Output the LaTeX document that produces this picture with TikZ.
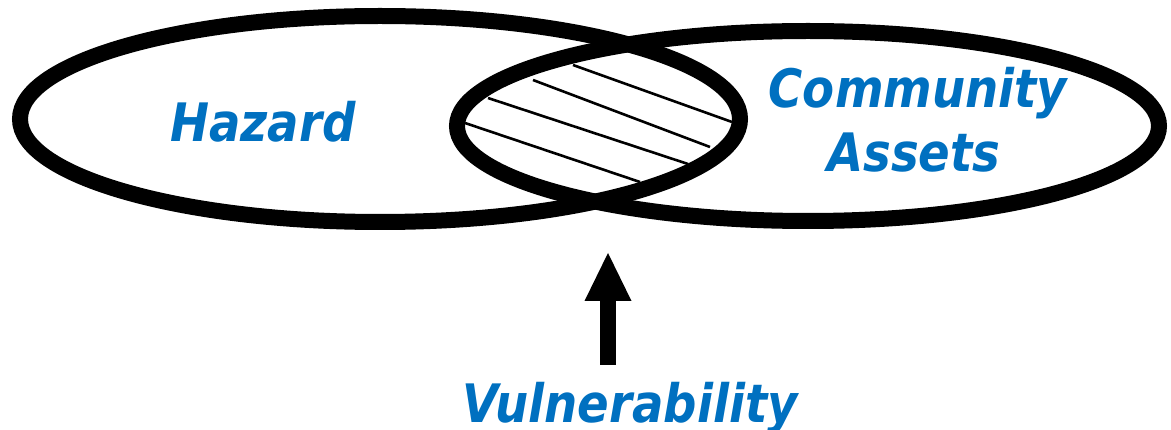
\documentclass[tikz,border=0pt]{standalone}
\usepackage{fontspec}
\newfontfamily\labelfont[FakeStretch=0.88]{DejaVu Sans}
\usetikzlibrary{arrows.meta}
\definecolor{labelblue}{RGB}{0,112,192}
\tikzset{
  setring/.style={draw=black, line width=16pt},
  hatchline/.style={draw=black, line width=2.6pt},
  lbl/.style={text=labelblue, font=\labelfont\bfseries\itshape\fontsize{53}{60}\selectfont,
               inner sep=0pt, anchor=base},
  bigarrow/.style={draw=black, line width=16pt,
               -{Triangle[width=47pt,length=48pt,line width=0pt]}}
}
\begin{document}
\begin{tikzpicture}[x=1pt,y=-1pt]
  \useasboundingbox (0,0) rectangle (1171,430);

  % the two overlapping sets
  \draw[setring] (380,119) ellipse [x radius=360, y radius=103];
  \draw[setring] (808,126) ellipse [x radius=351, y radius=95];

  % hatching of the overlap
  \draw[hatchline] (573,65)  -- (732,122);
  \draw[hatchline] (533,80)  -- (710,147);
  \draw[hatchline] (488,98)  -- (688,164);
  \draw[hatchline] (465,123) -- (640,182);

  % labels
  \node[lbl] (hazard)    at (263,142) {Hazard};
  \node[lbl] (community) at (918,108) {Community};
  \node[lbl] (assets)    at (914,172) {Assets};
  \node[lbl] (vuln)      at (630,423) {Vulnerability};

  % arrow pointing at the overlap
  \coordinate (tip) at (608,253);
  \draw[bigarrow, shorten <=18pt] (vuln.north -| tip) -- (tip);
\end{tikzpicture}
\end{document}
